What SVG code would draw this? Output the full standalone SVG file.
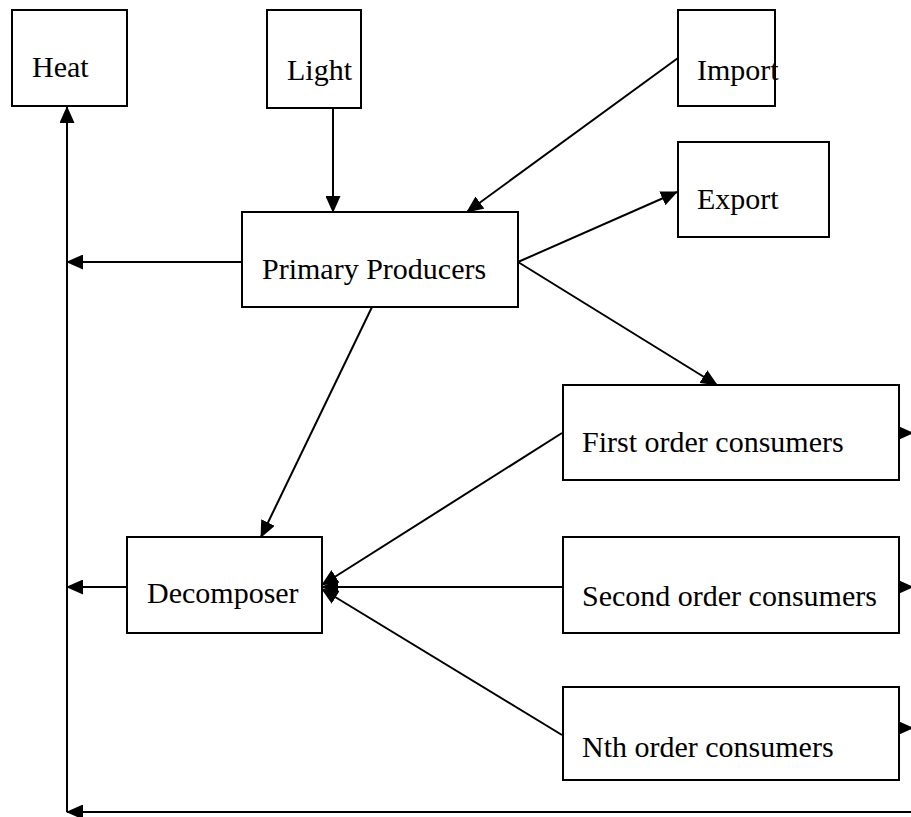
<svg xmlns="http://www.w3.org/2000/svg" width="911" height="817" viewBox="0 0 911 817">
<style>
.box{fill:#fff;stroke:#000;stroke-width:2}
.lbl{font-family:"Liberation Serif","Times New Roman",serif;font-size:30px;fill:#000}
.ln{fill:none;stroke:#000;stroke-width:2}
.arr{marker-end:url(#ah)}
</style>
<defs>
<marker id="ah" markerUnits="userSpaceOnUse" markerWidth="17" markerHeight="15" viewBox="0 0 17 15" refX="16" refY="7.5" orient="auto">
<path d="M0,0 L17,7.5 L0,15 Z" fill="#000"/>
</marker>
</defs>
<rect width="911" height="817" fill="#fff"/>
<g id="connectors">
<path class="ln arr" d="M333,108 L333,212"/>
<path class="ln arr" d="M678,58 L467,212"/>
<path class="ln arr" d="M518,262 L677,192"/>
<path class="ln arr" d="M518,262 L717,385"/>
<path class="ln arr" d="M242,262 L67,262"/>
<path class="ln arr" d="M372,307 L261,537"/>
<path class="ln arr" d="M127,587 L67,587"/>
<path class="ln arr" d="M562,433 L322,585"/>
<path class="ln arr" d="M562,587 L322,587"/>
<path class="ln arr" d="M562,735 L322,589"/>
<path class="ln arr" d="M899,433 L913,433"/>
<path class="ln arr" d="M899,587 L913,587"/>
<path class="ln arr" d="M899,728 L913,728"/>
<path class="ln arr" d="M911,812 L67,812"/>
<path class="ln arr" d="M67,812 L67,107"/>
</g>
<g id="heat"><rect class="box" x="12" y="10" width="115" height="96"/><text class="lbl" x="32" y="77">Heat</text></g>
<g id="light"><rect class="box" x="267" y="10" width="94" height="98"/><text class="lbl" x="287" y="80">Light</text></g>
<g id="import"><rect class="box" x="678" y="10" width="97" height="96"/><text class="lbl" x="697" y="80">Import</text></g>
<g id="export"><rect class="box" x="678" y="142" width="151" height="95"/><text class="lbl" x="697" y="209">Export</text></g>
<g id="primary"><rect class="box" x="242" y="212" width="276" height="95"/><text class="lbl" x="262" y="279">Primary Producers</text></g>
<g id="decomposer"><rect class="box" x="127" y="537" width="195" height="96"/><text class="lbl" x="147" y="603">Decomposer</text></g>
<g id="first"><rect class="box" x="563" y="385" width="336" height="95"/><text class="lbl" x="582" y="452">First order consumers</text></g>
<g id="second"><rect class="box" x="563" y="537" width="336" height="96"/><text class="lbl" x="582" y="606">Second order consumers</text></g>
<g id="nth"><rect class="box" x="563" y="687" width="336" height="93"/><text class="lbl" x="582" y="757">Nth order consumers</text></g>
</svg>
